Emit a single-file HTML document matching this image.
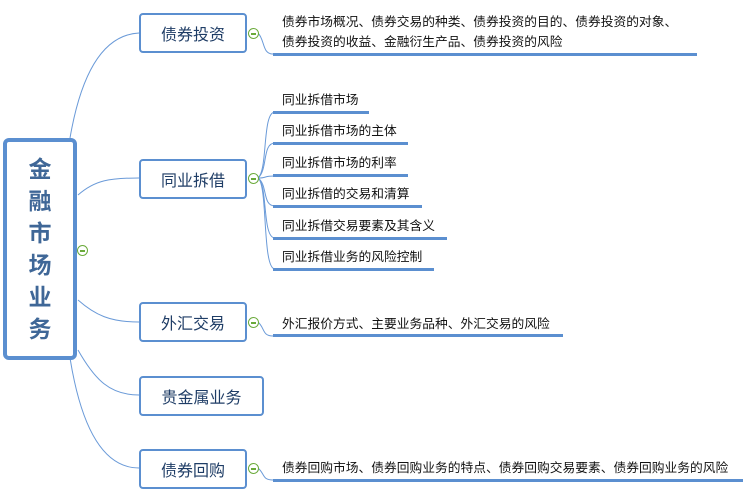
<!DOCTYPE html>
<html><head><meta charset="utf-8"><style>
body{margin:0;width:753px;height:500px;background:#fff;position:relative;overflow:hidden;font-family:"Liberation Sans","Noto Sans CJK SC",sans-serif}
.n{position:absolute;border:2px solid #5b8fd0;border-radius:4px;box-sizing:border-box;background:#fff;color:#1f3d66;font-size:16px;display:flex;align-items:center;justify-content:center}
.t{position:absolute;font-size:12.75px;color:#111;white-space:nowrap;line-height:20px}
.u{position:absolute;height:3px;background:#5b8fd0}
.c{position:absolute;width:9px;height:9px;border:1.5px solid #6aaa3a;border-radius:50%;background:#fff}
.c:after{content:"";position:absolute;left:2px;top:4px;width:5px;height:1.5px;background:#6aaa3a}
</style></head><body>
<svg width="753" height="500" style="position:absolute;left:0;top:0" fill="none" stroke="#6a9ad8" stroke-width="1">
<path d="M70 138 C80 80 100 35 139 33"/>
<path d="M78 195 C95 180 110 178 139 178"/>
<path d="M78 300 C95 315 110 322 139 322"/>
<path d="M78 350 C95 380 110 395 139 395"/>
<path d="M70 358 C80 420 100 468 139 468"/>
<path d="M258 33 C265 40 262 54 273 54"/>
<path d="M258 178 C268 170 262 112 275 112"/>
<path d="M258 178 C268 170 262 143 275 143"/>
<path d="M258 178 C268 178 262 176 275 176"/>
<path d="M258 178 C268 185 262 206 275 206"/>
<path d="M258 178 C268 185 262 238 275 238"/>
<path d="M258 178 C268 185 262 269 275 269"/>
<path d="M258 322 C265 328 262 336 273 336"/>
<path d="M258 468 C265 474 262 480 273 480"/>
</svg>
<div class="n" style="left:3px;top:138px;width:74px;height:222px;border-width:4px;border-radius:6px;flex-direction:column;font-size:23px;font-weight:bold;color:#3f6797;line-height:32px">金<br>融<br>市<br>场<br>业<br>务</div>
<div class="c" style="left:77px;top:245px"></div>
<div class="n" style="left:139px;top:13px;width:108px;height:40px">债券投资</div>
<div class="n" style="left:139px;top:159px;width:108px;height:40px">同业拆借</div>
<div class="n" style="left:139px;top:302px;width:108px;height:40px">外汇交易</div>
<div class="n" style="left:139px;top:376px;width:125px;height:40px">贵金属业务</div>
<div class="n" style="left:139px;top:449px;width:108px;height:40px">债券回购</div>
<div class="c" style="left:248px;top:28px"></div>
<div class="c" style="left:248px;top:173px"></div>
<div class="c" style="left:248px;top:317px"></div>
<div class="c" style="left:248px;top:463px"></div>
<div class="t" style="left:282px;top:12px">债券市场概况、债券交易的种类、债券投资的目的、债券投资的对象、<br>债券投资的收益、金融衍生产品、债券投资的风险</div>
<div class="u" style="left:273px;top:53px;width:424px"></div>
<div class="t" style="left:282px;top:90px">同业拆借市场</div><div class="u" style="left:273px;top:111px;width:96px"></div>
<div class="t" style="left:282px;top:121px">同业拆借市场的主体</div><div class="u" style="left:273px;top:142px;width:135px"></div>
<div class="t" style="left:282px;top:153px">同业拆借市场的利率</div><div class="u" style="left:273px;top:174px;width:135px"></div>
<div class="t" style="left:282px;top:184px">同业拆借的交易和清算</div><div class="u" style="left:273px;top:205px;width:149px"></div>
<div class="t" style="left:282px;top:216px">同业拆借交易要素及其含义</div><div class="u" style="left:273px;top:237px;width:174px"></div>
<div class="t" style="left:282px;top:247px">同业拆借业务的风险控制</div><div class="u" style="left:273px;top:268px;width:161px"></div>
<div class="t" style="left:282px;top:314px">外汇报价方式、主要业务品种、外汇交易的风险</div><div class="u" style="left:273px;top:334px;width:290px"></div>
<div class="t" style="left:282px;top:458px">债券回购市场、债券回购业务的特点、债券回购交易要素、债券回购业务的风险</div><div class="u" style="left:273px;top:479px;width:470px"></div>
</body></html>
